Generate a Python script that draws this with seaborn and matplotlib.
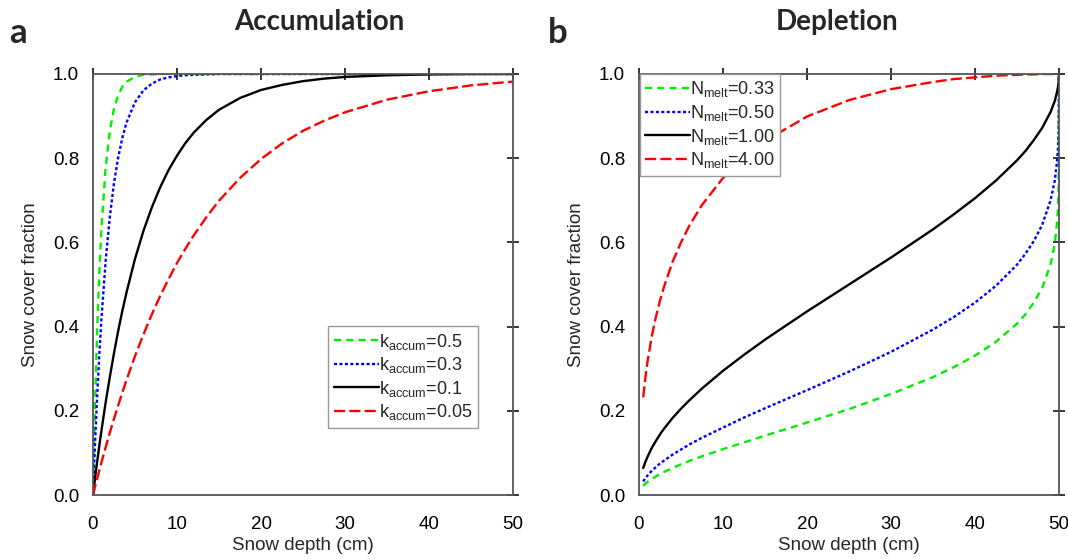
import matplotlib
matplotlib.use("Agg")
import matplotlib.pyplot as plt
import seaborn as sns
import pandas as pd

# ---------------- data ----------------
accum_depth = [0, 0.25, 0.5, 0.75, 1, 1.5, 2, 2.5, 3, 3.5, 4, 5, 6, 7, 8, 9, 10, 11, 12,
               13.5, 15, 17.5, 20, 22.5, 25, 27.5, 30, 35, 40, 45, 50]
accum_k05 = [0, 0.221, 0.394, 0.528, 0.632, 0.777, 0.865, 0.918, 0.950, 0.970, 0.982, 0.993,
             0.998, 0.999, 1.0, 1.0, 1.0, 1.0, 1.0, 1.0, 1.0, 1.0, 1.0, 1.0, 1.0, 1.0, 1.0,
             1.0, 1.0, 1.0, 1.0]
accum_k03 = [0, 0.126, 0.237, 0.333, 0.417, 0.555, 0.660, 0.741, 0.802, 0.849, 0.885, 0.933,
             0.961, 0.977, 0.987, 0.992, 0.995, 0.997, 0.998, 0.999, 1.0, 1.0, 1.0, 1.0, 1.0,
             1.0, 1.0, 1.0, 1.0, 1.0, 1.0]
accum_k01 = [0, 0.041, 0.080, 0.117, 0.152, 0.219, 0.280, 0.337, 0.390, 0.438, 0.482, 0.561,
             0.627, 0.683, 0.731, 0.772, 0.806, 0.836, 0.861, 0.891, 0.915, 0.943, 0.962,
             0.974, 0.983, 0.989, 0.993, 0.997, 0.999, 1.0, 1.0]
accum_k005 = [0, 0.020, 0.039, 0.058, 0.077, 0.113, 0.148, 0.181, 0.213, 0.244, 0.274, 0.330,
              0.381, 0.429, 0.473, 0.513, 0.551, 0.585, 0.617, 0.660, 0.699, 0.753, 0.798,
              0.835, 0.865, 0.889, 0.909, 0.939, 0.959, 0.973, 0.982]
accum_labels = ["0.5", "0.3", "0.1", "0.05"]

depl_depth = [0.5, 0.75, 1, 1.5, 2, 2.5, 3, 4, 5, 6, 7.5, 10, 12.5, 15, 20, 25, 30, 35, 37.5,
              40, 42.5, 45, 46, 47, 48, 49, 49.5, 49.8, 49.9, 49.95, 50]
depl_n033 = [0.022, 0.027, 0.031, 0.038, 0.044, 0.050, 0.055, 0.064, 0.073, 0.081, 0.092,
             0.109, 0.125, 0.141, 0.172, 0.204, 0.240, 0.280, 0.304, 0.331, 0.364, 0.407,
             0.429, 0.457, 0.492, 0.548, 0.597, 0.654, 0.691, 0.724, 1.0]
depl_n050 = [0.032, 0.040, 0.046, 0.057, 0.066, 0.075, 0.082, 0.096, 0.108, 0.120, 0.136,
             0.160, 0.184, 0.206, 0.249, 0.293, 0.340, 0.393, 0.423, 0.457, 0.497, 0.547,
             0.573, 0.603, 0.642, 0.700, 0.747, 0.799, 0.831, 0.858, 1.0]
depl_n100 = [0.064, 0.078, 0.090, 0.111, 0.128, 0.144, 0.158, 0.183, 0.205, 0.225, 0.253,
             0.295, 0.333, 0.369, 0.436, 0.500, 0.564, 0.631, 0.667, 0.705, 0.747, 0.795,
             0.817, 0.843, 0.872, 0.910, 0.936, 0.960, 0.972, 0.980, 1.0]
depl_n400 = [0.232, 0.278, 0.315, 0.375, 0.422, 0.462, 0.496, 0.554, 0.600, 0.640, 0.689,
             0.753, 0.802, 0.841, 0.899, 0.938, 0.964, 0.981, 0.988, 0.992, 0.996, 0.998,
             0.999, 0.999, 1.0, 1.0, 1.0, 1.0, 1.0, 1.0, 1.0]
depl_labels = ["0.33", "0.50", "1.00", "4.00"]

x_ticks = [0, 10, 20, 30, 40, 50]
y_ticks = [0.0, 0.2, 0.4, 0.6, 0.8, 1.0]

# ---------------- style ----------------
sns.set_theme(style="white")
plt.rcParams["font.family"] = ["Liberation Sans", "DejaVu Sans"]
plt.rcParams["mathtext.fontset"] = "custom"
plt.rcParams["mathtext.rm"] = "Liberation Sans"

colors = ["#00ee00", "#0000ff", "#000000", "#ff0000"]
styles = [(0, (3.0, 2.2)), (0, (1.3, 1.0)), "-", (0, (4.7, 1.8))]
lw = 1.7

W, H = 1068, 559
fig = plt.figure(figsize=(W / 100, H / 100), dpi=100)
ax1 = fig.add_axes([93 / W, 1 - 495 / H, 420 / W, 421 / H])
ax2 = fig.add_axes([639 / W, 1 - 495 / H, 420 / W, 421 / H])

accum_series = [accum_k05, accum_k03, accum_k01, accum_k005]
depl_series = [depl_n033, depl_n050, depl_n100, depl_n400]

for ys, c, ls, lab in zip(accum_series, colors, styles, accum_labels):
    df = pd.DataFrame({"depth": accum_depth, "frac": ys})
    sns.lineplot(data=df, x="depth", y="frac", ax=ax1, color=c, linestyle=ls,
                 linewidth=lw, label=r"k$_\mathregular{accum}$=" + lab, sort=False)

for ys, c, ls, lab in zip(depl_series, colors, styles, depl_labels):
    df = pd.DataFrame({"depth": depl_depth, "frac": ys})
    sns.lineplot(data=df, x="depth", y="frac", ax=ax2, color=c, linestyle=ls,
                 linewidth=lw, label=r"N$_\mathregular{melt}$=" + lab, sort=False)

fs = 13.5
for ax in (ax1, ax2):
    ax.set_xlim(0, 50)
    ax.set_ylim(0, 1)
    ax.set_xticks(x_ticks)
    ax.set_yticks(y_ticks)
    ax.set_xticklabels([str(t) for t in x_ticks])
    ax.set_yticklabels([f"{t:.1f}" for t in y_ticks])
    ax.tick_params(direction="inout", length=8, width=1.1, colors="black",
                   labelsize=fs, top=True, right=True, labeltop=False,
                   labelright=False)
    ax.tick_params(axis="x", pad=11)
    ax.tick_params(axis="y", pad=6)
    for sp in ax.spines.values():
        sp.set_color("#555555")
        sp.set_linewidth(1.3)
        sp.set_visible(True)
    ax.set_xlabel("Snow depth (cm)", fontsize=fs, labelpad=3)
    ax.set_ylabel("Snow cover fraction", fontsize=fs, labelpad=10)
    ax.grid(False)

leg_kw = dict(fontsize=13, frameon=True, fancybox=False, framealpha=1,
              edgecolor="#999999", handlelength=2.5, handletextpad=0.0,
              labelspacing=0.2, borderpad=0.3, borderaxespad=0.0)
l1 = ax1.legend(loc="upper left", bbox_to_anchor=(0.56, 0.401), **leg_kw)
l2 = ax2.legend(loc="upper left", bbox_to_anchor=(0.002, 1.0), **leg_kw)
for l in (l1, l2):
    l.get_frame().set_linewidth(1.0)

title_font = ["Lato", "DejaVu Sans"]
fig.text(319 / W, 1 - 30 / H, "Accumulation", ha="center", va="baseline",
         fontsize=20, fontweight="bold", family=title_font)
fig.text(837 / W, 1 - 30 / H, "Depletion", ha="center", va="baseline",
         fontsize=20, fontweight="bold", family=title_font)
fig.text(18 / W, 1 - 43 / H, "a", ha="center", va="baseline",
         fontsize=25, fontweight="bold", family=title_font)
fig.text(558 / W, 1 - 43 / H, "b", ha="center", va="baseline",
         fontsize=25, fontweight="bold", family=title_font)

fig.savefig("out.png", dpi=100)
